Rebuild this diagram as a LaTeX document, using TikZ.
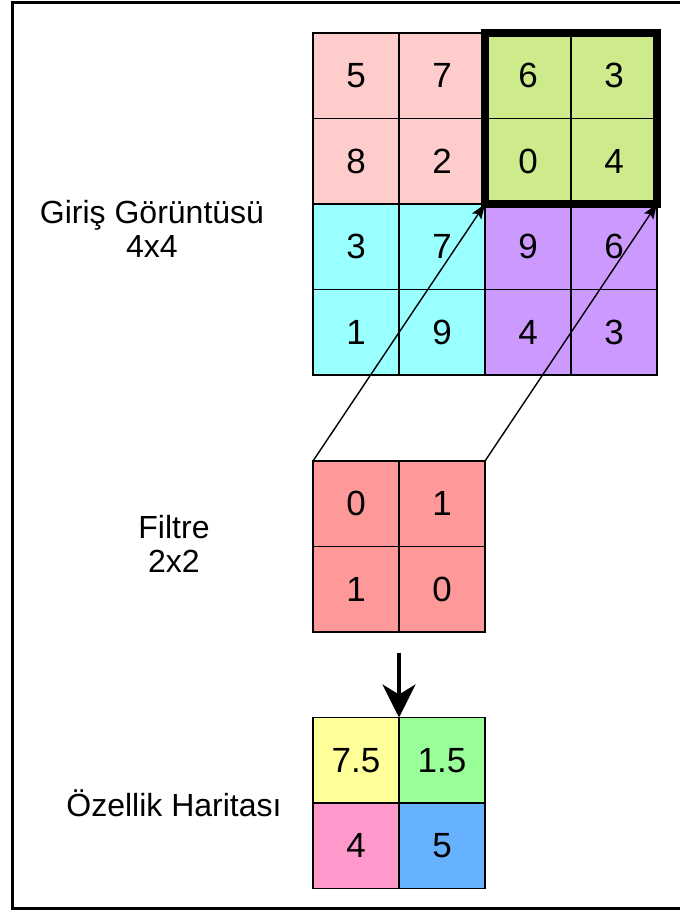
\documentclass[tikz,border=0pt]{standalone}
\usepackage{fontspec}
\setmainfont{Liberation Sans}
\usetikzlibrary{arrows.meta}
\definecolor{pinkcell}{HTML}{FFCCCC}
\definecolor{limecell}{HTML}{CDEB8B}
\definecolor{cyancell}{HTML}{99FFFF}
\definecolor{violetcell}{HTML}{CC99FF}
\definecolor{filtercell}{HTML}{FF9999}
\definecolor{yellowcell}{HTML}{FFFF99}
\definecolor{greencell}{HTML}{99FF99}
\definecolor{rosecell}{HTML}{FF99CC}
\definecolor{bluecell}{HTML}{66B2FF}
\begin{document}
\begin{tikzpicture}[x=1pt,y=-1pt,
  cell/.style={draw=black, line width=1.5pt, inner sep=0pt, outer sep=0pt,
    minimum width=86pt, minimum height=85.5pt, font=\fontsize{35}{40}\selectfont},
  caption/.style={align=center, inner sep=0pt, font=\fontsize{32}{34}\selectfont},
  link/.style={line width=1.4pt, -{Stealth[length=15pt,width=11pt,inset=3pt]}},
  flow/.style={line width=4pt, -{Stealth[length=33pt,width=33pt,inset=10pt]}},
]
\useasboundingbox (0,0) rectangle (680,913);
% outer frame
\draw[line width=3pt] (12.5,2) rectangle (700,908.5);

% input image 4x4
\node[cell, fill=pinkcell]   (a11) at (356,75.75)  {5};
\node[cell, fill=pinkcell]   (a12) at (442,75.75)  {7};
\node[cell, fill=limecell]   (a13) at (528,75.75)  {6};
\node[cell, fill=limecell]   (a14) at (614,75.75)  {3};
\node[cell, fill=pinkcell]   (a21) at (356,161.25) {8};
\node[cell, fill=pinkcell]   (a22) at (442,161.25) {2};
\node[cell, fill=limecell]   (a23) at (528,161.25) {0};
\node[cell, fill=limecell]   (a24) at (614,161.25) {4};
\node[cell, fill=cyancell]   (a31) at (356,246.75) {3};
\node[cell, fill=cyancell]   (a32) at (442,246.75) {7};
\node[cell, fill=violetcell] (a33) at (528,246.75) {9};
\node[cell, fill=violetcell] (a34) at (614,246.75) {6};
\node[cell, fill=cyancell]   (a41) at (356,332.25) {1};
\node[cell, fill=cyancell]   (a42) at (442,332.25) {9};
\node[cell, fill=violetcell] (a43) at (528,332.25) {4};
\node[cell, fill=violetcell] (a44) at (614,332.25) {3};
% highlighted window
\draw[line width=8pt] (a13.north west) rectangle (a24.south east);

% filter 2x2
\node[cell, fill=filtercell] (f11) at (356,503.75) {0};
\node[cell, fill=filtercell] (f12) at (442,503.75) {1};
\node[cell, fill=filtercell] (f21) at (356,589.25) {1};
\node[cell, fill=filtercell] (f22) at (442,589.25) {0};

% feature map 2x2
\node[cell, fill=yellowcell] (o11) at (356,760.25) {7.5};
\node[cell, fill=greencell]  (o12) at (442,760.25) {1.5};
\node[cell, fill=rosecell]   (o21) at (356,845.75) {4};
\node[cell, fill=bluecell]   (o22) at (442,845.75) {5};

% projection of the filter onto the window
\draw[link] (f11.north west) -- (a23.south west);
\draw[link] (f12.north east) -- (a24.south east);

% filter output arrow
\coordinate (flowstart) at (399,653);
\draw[flow] (flowstart) -- (o11.north east);

% captions
\node[caption] (inlabel) at (152,229) {Giriş Görüntüsü\\4x4};
\node[caption] (filterlabel) at (174,544) {Filtre\\2x2};
\node[caption] (maplabel) at (174,803) {Özellik Haritası};
\end{tikzpicture}
\end{document}
